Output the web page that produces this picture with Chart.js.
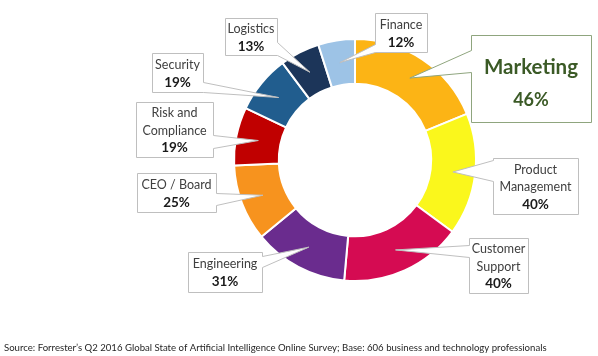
<!DOCTYPE html>
<html>
<head>
<meta charset="utf-8">
<script src="https://cdn.jsdelivr.net/npm/chart.js@4"></script>
<style>
  html, body { margin: 0; padding: 0; background: #ffffff; }
  #wrap { position: relative; width: 598px; height: 356px; }
</style>
</head>
<body>
<div id="wrap"><canvas id="c" width="598" height="356"></canvas></div>
<script>
// ---- data ----
const categories = ['Marketing', 'Product Management', 'Customer Support', 'Engineering',
  'CEO / Board', 'Risk and Compliance', 'Security', 'Logistics', 'Finance'];
const values = [46, 40, 40, 31, 25, 19, 19, 13, 12];
const labelLines = [['Marketing'], ['Product', 'Management'], ['Customer', 'Support'], ['Engineering'],
  ['CEO / Board'], ['Risk and', 'Compliance'], ['Security'], ['Logistics'], ['Finance']];
const sourceNote = "Source: Forrester\u2019s Q2 2016 Global State of Artificial Intelligence Online Survey; Base: 606 business and technology professionals";

// ---- styling ----
const colors = ['#FCB415', '#FAF71C', '#D50B52', '#6A2C8E', '#F7931E', '#C00000', '#215D8E', '#1C3559', '#9DC3E6'];
// callout box layout: [x1, y1, x2, y2, side, baseTop, baseBottom]
const calloutLayout = [
  [471, 35, 591, 122, 'left', 50, 72],
  [493, 158, 578, 214, 'left', 160, 181],
  [469, 238, 528, 293, 'left', 245, 257],
  [188, 252, 262, 292, 'right', 256, 267],
  [137, 173, 216, 212, 'right', 193, 205],
  [136, 102, 213, 157, 'right', 135, 148],
  [152, 53, 203, 92, 'right', 82, 92],
  [225, 18, 277, 55, 'right', 42, 55],
  [375, 13, 427, 52, 'left', 44, 52]
];
const FONT = 'Lato, "Open Sans", sans-serif';

const calloutPlugin = {
  id: 'callouts',
  afterDatasetsDraw(chart) {
    const ctx = chart.ctx;
    const meta = chart.getDatasetMeta(0);
    calloutLayout.forEach((b, i) => {
      const arc = meta.data[i];
      const tip = arc.getCenterPoint();
      const [x1r, y1r, x2r, y2r, side, ar, br] = b;
      const x1 = x1r + 0.5, y1 = y1r + 0.5, x2 = x2r + 0.5, y2 = y2r + 0.5;
      const a = ar + 0.5, bb = br + 0.5;
      ctx.save();
      ctx.beginPath();
      if (side === 'left') {
        ctx.moveTo(x1, y1); ctx.lineTo(x2, y1); ctx.lineTo(x2, y2); ctx.lineTo(x1, y2);
        ctx.lineTo(x1, bb); ctx.lineTo(tip.x, tip.y); ctx.lineTo(x1, a);
      } else {
        ctx.moveTo(x1, y1); ctx.lineTo(x2, y1); ctx.lineTo(x2, a); ctx.lineTo(tip.x, tip.y);
        ctx.lineTo(x2, bb); ctx.lineTo(x2, y2); ctx.lineTo(x1, y2);
      }
      ctx.closePath();
      ctx.fillStyle = '#ffffff';
      ctx.fill();
      ctx.lineWidth = 1;
      ctx.strokeStyle = i === 0 ? '#8FA57E' : '#BFBFBF';
      ctx.stroke();

      const cx = (x1r + x2r) / 2;
      ctx.textAlign = 'center';
      ctx.textBaseline = 'middle';
      if (i === 0) {
        ctx.fillStyle = '#3B5A26';
        ctx.font = 'bold 20.5px ' + FONT;
        ctx.fillText(labelLines[i][0], cx, 67);
        ctx.font = 'bold 18px ' + FONT;
        ctx.fillText(values[i] + '%', cx, 100);
      } else {
        const lines = labelLines[i].concat([values[i] + '%']);
        const lh = 17.5;
        const cy = (y1r + y2r) / 2 + 1;
        const start = cy - (lines.length - 1) * lh / 2;
        lines.forEach((t, k) => {
          const isPct = k === lines.length - 1;
          ctx.font = (isPct ? 'bold 13.5px ' : '12.5px ') + FONT;
          ctx.fillStyle = isPct ? '#1a1a1a' : '#404040';
          ctx.fillText(t, cx, start + k * lh);
        });
      }
      ctx.restore();
    });
    // source note
    ctx.save();
    ctx.font = '9.6px ' + FONT;
    ctx.fillStyle = '#262626';
    ctx.textAlign = 'left';
    ctx.textBaseline = 'middle';
    ctx.fillText(sourceNote, 4, 348);
    ctx.restore();
  }
};

new Chart(document.getElementById('c'), {
  type: 'doughnut',
  data: {
    labels: categories,
    datasets: [{
      data: values,
      backgroundColor: colors,
      borderColor: '#ffffff',
      borderWidth: 2
    }]
  },
  options: {
    responsive: false,
    animation: false,
    cutout: '63%',
    layout: { padding: { top: 38, bottom: 74, left: 233, right: 121 } },
    plugins: {
      legend: { display: false },
      tooltip: { enabled: false }
    }
  },
  plugins: [calloutPlugin]
});
</script>
</body>
</html>
